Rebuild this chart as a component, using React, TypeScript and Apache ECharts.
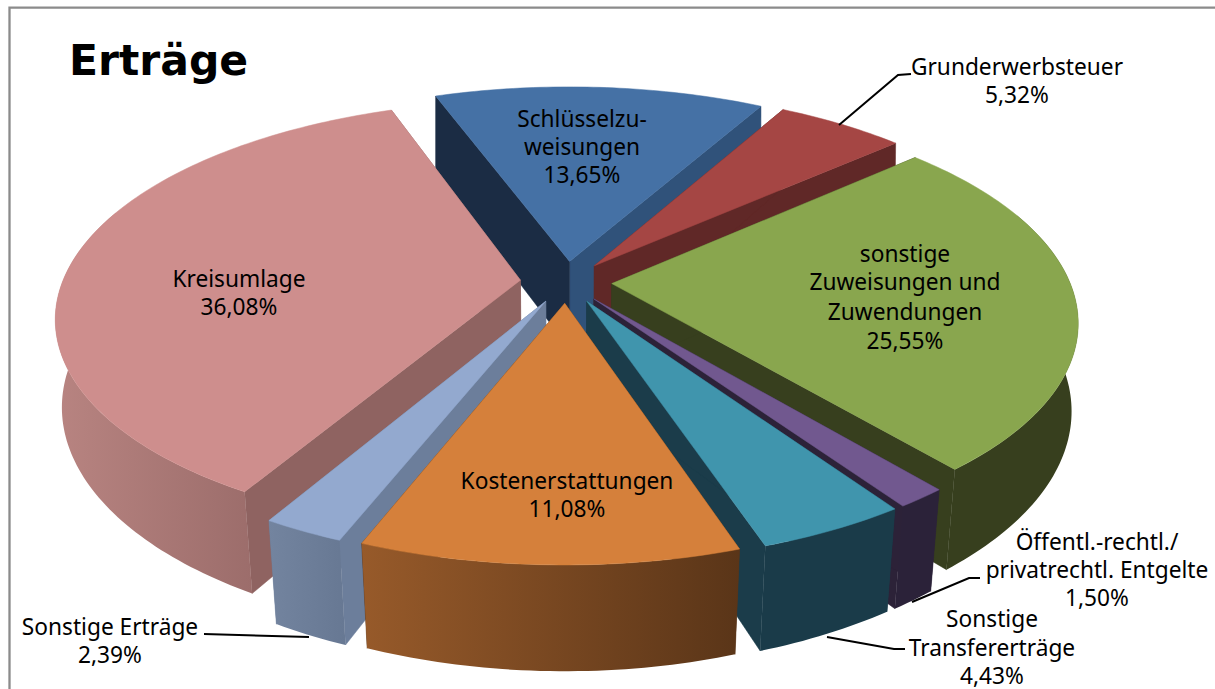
import React, { useEffect, useRef } from "react";
import * as echarts from "echarts";

const categories = [
  "Schlüsselzuweisungen",
  "Grunderwerbsteuer",
  "sonstige Zuweisungen und Zuwendungen",
  "Öffentl.-rechtl./privatrechtl. Entgelte",
  "Sonstige Transfererträge",
  "Kostenerstattungen",
  "Sonstige Erträge",
  "Kreisumlage",
];
const values = [13.65, 5.32, 25.55, 1.5, 4.43, 11.08, 2.39, 36.08];
const labelLines = [
  ["Schlüsselzu-", "weisungen"],
  ["Grunderwerbsteuer"],
  ["sonstige", "Zuweisungen und", "Zuwendungen"],
  ["Öffentl.-rechtl./", "privatrechtl. Entgelte"],
  ["Sonstige", "Transfererträge"],
  ["Kostenerstattungen"],
  ["Sonstige Erträge"],
  ["Kreisumlage"],
];
const title = "Erträge";

// styles per slice: top, radial walls, outer wall from/to
const topColors = ["#4571a5", "#a54644", "#89a64e", "#71588f", "#4095ad", "#d5803b", "#93a9cf", "#ce8e8d"];
const startWallColors = ["#1b2c44", "#602827", "#373f1e", "#2c2238", "#1b3c4a", "#5a3518", "#6c7e9b", "#8f6361"];
const endWallColors = ["#30527a", "#602827", "#373f1e", "#2c2238", "#1b3c4a", "#5a3518", "#6c7e9b", "#8f6361"];
const wallFrom = ["#30527a", "#602827", "#373f1e", "#2b2239", "#1a3b49", "#975a2a", "#73849f", "#b88481"];
const wallTo = ["#30527a", "#602827", "#373f1e", "#2b2239", "#1a3b49", "#5a3518", "#677893", "#9c6d6b"];

// layout of the label blocks: centre x and the centre y of each line
const labelX = [582, 1017, 905, 1097, 992, 567, 110, 239];
const labelY = [
  [118, 146, 174],
  [66, 94],
  [253, 281, 311, 340],
  [541, 569, 597],
  [618, 647, 675],
  [480, 508],
  [626, 654],
  [278, 306],
];
const leaders = [
  [[839, 125], [898, 75], [911, 74]],
  [[912, 602], [969, 578], [980, 578]],
  [[827, 637], [894, 649], [905, 649]],
  [[204, 634], [309, 637]],
];

// projection of the tilted pie
const CX = 566, CY = 282, SX = 458, SY = 210, PERSP = 0.167, EXPLODE = 0.1, START = -20;
const project = (u: number, v: number) => {
  const d = 1 - PERSP * v;
  return [CX + (SX * u) / d, CY + (SY * v) / d];
};
const lower = (p: number[]) => [570 + (p[0] - 570) * (1 - 0.000059 * (p[1] - 100)), p[1] * 1.0624 + 71];
const rad = (deg: number) => (deg * Math.PI) / 180;

const total = values.reduce((a, b) => a + b, 0);
const slices = values.map((val, i) => {
  const before = values.slice(0, i).reduce((a, b) => a + b, 0);
  const a0 = START + (before / total) * 360;
  const a1 = a0 + (val / total) * 360;
  const mid = rad((a0 + a1) / 2);
  return { i, a0, a1, u0: EXPLODE * Math.sin(mid), v0: -EXPLODE * Math.cos(mid) };
});
const paintOrder = slices.slice().sort((a, b) => a.v0 - b.v0).map((s) => s.i);

const rimPoint = (s: any, deg: number) =>
  project(s.u0 + Math.sin(rad(deg)), s.v0 - Math.cos(rad(deg)));

const renderSlice = (params: any, api: any) => {
  const s = slices[api.value(0)];
  const apex = project(s.u0, s.v0);
  const rim: number[][] = [];
  const n = Math.max(6, Math.ceil(s.a1 - s.a0));
  for (let k = 0; k <= n; k++) rim.push(rimPoint(s, s.a0 + ((s.a1 - s.a0) * k) / n));

  const children: any[] = [];
  const wall = (a: number[], b: number[], fill: string) => ({
    type: "polygon",
    shape: { points: [a, b, lower(b), lower(a)] },
    style: { fill, stroke: fill, lineWidth: 0.5 },
  });
  children.push(wall(apex, rim[n], endWallColors[s.i]));
  children.push(wall(apex, rim[0], startWallColors[s.i]));

  const lo = Math.max(s.a0, 70);
  const hi = Math.min(s.a1, 290);
  if (hi > lo) {
    const arc: number[][] = [];
    const m = Math.ceil(hi - lo);
    for (let k = 0; k <= m; k++) arc.push(rimPoint(s, lo + ((hi - lo) * k) / m));
    const pts = arc.concat(arc.slice().reverse().map(lower));
    const fill = new echarts.graphic.LinearGradient(0, 0, 1, 0, [
      { offset: 0, color: wallFrom[s.i] },
      { offset: 1, color: wallTo[s.i] },
    ]);
    children.push({ type: "polygon", shape: { points: pts }, style: { fill } });
  }
  children.push({
    type: "polygon",
    shape: { points: [apex].concat(rim) },
    style: { fill: topColors[s.i], stroke: topColors[s.i], lineWidth: 0.5 },
  });
  return { type: "group", children };
};

const LABEL_FONT = '22.7px "Noto Sans", sans-serif';

const labelElements = () => {
  const out: any[] = [];
  values.forEach((val, i) => {
    const lines = labelLines[i].concat(val.toFixed(2).replace(".", ",") + "%");
    lines.forEach((text, k) => {
      out.push({
        type: "text",
        z: 100,
        x: labelX[i],
        y: labelY[i][k],
        style: { text, font: LABEL_FONT, fill: "#000", align: "center", verticalAlign: "middle" },
      });
    });
  });
  return out;
};

export default function App() {
  const ref = useRef<HTMLDivElement>(null);
  useEffect(() => {
    const chart = echarts.init(ref.current!, null, { renderer: "svg" });
    chart.setOption({
      animation: false,
      backgroundColor: "#ffffff",
      series: [
        {
          type: "custom",
          name: "Erträge",
          coordinateSystem: "none",
          silent: true,
          renderItem: renderSlice,
          data: paintOrder.map((i) => ({ name: categories[i], value: [i, values[i]] })),
        },
      ],
      graphic: [
        {
          type: "polyline",
          z: 90,
          shape: { points: [[9.5, 689], [9.5, 7.7], [1215, 7.7]] },
          style: { stroke: "#8b8b8b", lineWidth: 2.3, fill: "none" },
        },
        {
          type: "text",
          z: 100,
          x: 69,
          y: 60,
          style: {
            text: title,
            font: 'bold 42.5px "DejaVu Sans", sans-serif',
            fill: "#000",
            align: "left",
            verticalAlign: "middle",
          },
        },
        ...leaders.map((points) => ({
          type: "polyline",
          z: 95,
          shape: { points },
          style: { stroke: "#000", lineWidth: 2, fill: "none" },
        })),
        ...labelElements(),
      ],
    });
    return () => chart.dispose();
  }, []);
  return <div ref={ref} style={{ position: "absolute", left: 0, top: 0, width: 1215, height: 689 }} />;
}
